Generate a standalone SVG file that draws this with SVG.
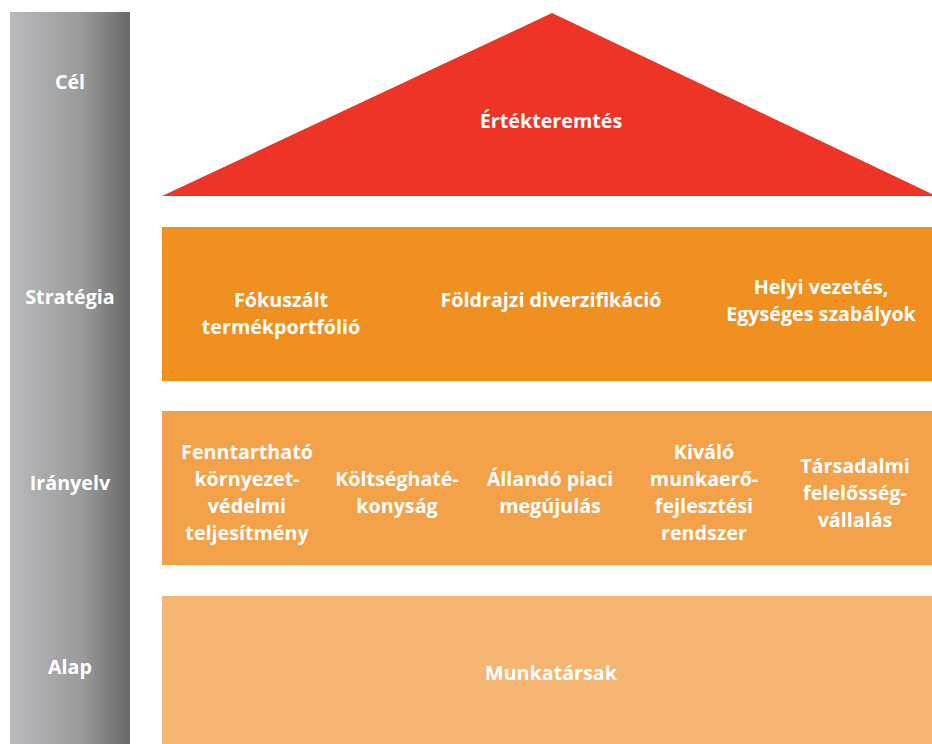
<svg xmlns="http://www.w3.org/2000/svg" width="932" height="744" viewBox="0 0 932 744">
<defs>
<linearGradient id="gbar" x1="0" y1="0" x2="1" y2="0">
<stop offset="0" stop-color="#b9babc"/>
<stop offset="0.6" stop-color="#9a9a9b"/>
<stop offset="1" stop-color="#686868"/>
</linearGradient>
</defs>
<style>
text{font-family:"Open Sans","Noto Sans","Liberation Sans",sans-serif;font-weight:bold;font-size:19.7px;fill:#ffffff;text-anchor:middle}
</style>
<g id="levels">
<rect x="10" y="12" width="120" height="732" fill="url(#gbar)"/>
<text x="70" y="89">Cél</text>
<text x="70" y="304">Stratégia</text>
<text x="70" y="490">Irányelv</text>
<text x="70" y="674">Alap</text>
</g>
<g id="roof">
<polygon points="552,13 932,194 932,196 162,196" fill="#ee3427"/>
<text x="551" y="128">Értékteremtés</text>
</g>
<g id="strategy">
<rect x="162" y="227" width="770" height="154" fill="#f09020"/>
<text x="281" y="307">Fókuszált</text>
<text x="281" y="334">termékportfólió</text>
<text x="551" y="307">Földrajzi diverzifikáció</text>
<text x="821" y="294">Helyi vezetés,</text>
<text x="821" y="321">Egységes szabályok</text>
</g>
<g id="principles">
<rect x="162" y="411" width="770" height="154" fill="#f3a24a"/>
<text x="247" y="459">Fenntartható</text>
<text x="247" y="486">környezet-</text>
<text x="247" y="513">védelmi</text>
<text x="247" y="540">teljesítmény</text>
<text x="397" y="486">Költséghaté-</text>
<text x="397" y="513">konyság</text>
<text x="550" y="486">Állandó piaci</text>
<text x="550" y="513">megújulás</text>
<text x="704" y="459">Kiváló</text>
<text x="704" y="486">munkaerő-</text>
<text x="704" y="513">fejlesztési</text>
<text x="704" y="540">rendszer</text>
<text x="855" y="473">Társadalmi</text>
<text x="855" y="500">felelősség-</text>
<text x="855" y="527">vállalás</text>
</g>
<g id="foundation">
<rect x="162" y="596" width="770" height="148" fill="#f5b673"/>
<text x="551" y="680">Munkatársak</text>
</g>
<g id="connectors"/>
</svg>
